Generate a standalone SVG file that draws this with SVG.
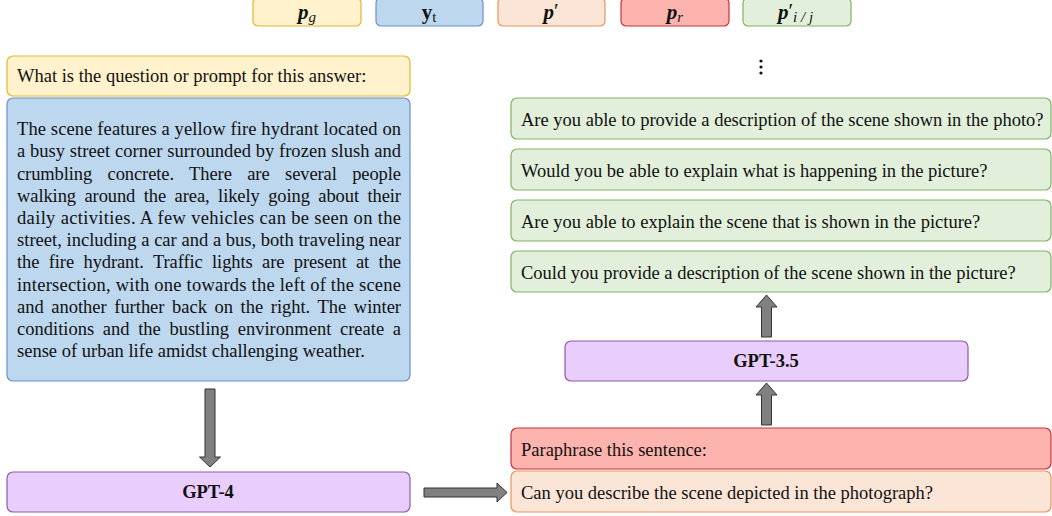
<svg xmlns="http://www.w3.org/2000/svg" width="1052" height="516" viewBox="0 0 1052 516">
<style>
text{font-family:"Liberation Serif","Times New Roman",serif;font-size:18.5px;fill:#111}
.b{font-weight:bold}
.bi{font-weight:bold;font-style:italic}
.i{font-style:italic}
.c{text-anchor:middle}
.lg{font-size:21px}
.yel{fill:#fff2cc;stroke:#e6b52e;stroke-width:1.2}
.blu{fill:#bdd7ee;stroke:#6a8fcf;stroke-width:1.2}
.org{fill:#fbe5d6;stroke:#e8955e;stroke-width:1.2}
.red{fill:#fdb4ae;stroke:#c8323a;stroke-width:1.2}
.grn{fill:#e2efda;stroke:#82b366;stroke-width:1.2}
.pur{fill:#e9cdfc;stroke:#8e5aaa;stroke-width:1.2}
.arr{fill:#808080;stroke:#333;stroke-width:1}
</style>
<g id="legend">
<rect class="yel" x="253" y="-2" width="108" height="28" rx="5"/>
<text class="c lg" x="307" y="19"><tspan class="bi">p</tspan><tspan class="i" font-size="15" dy="3">g</tspan></text>
<rect class="blu" x="376" y="-2" width="107" height="28" rx="5"/>
<text class="c lg" x="429" y="19"><tspan class="b">y</tspan><tspan font-size="15" dy="3">t</tspan></text>
<rect class="org" x="498" y="-2" width="107" height="28" rx="5"/>
<text class="c lg" x="551" y="19"><tspan class="bi">p</tspan><tspan dy="-1">′</tspan></text>
<rect class="red" x="621" y="-2" width="108" height="28" rx="5"/>
<text class="c lg" x="675" y="19"><tspan class="bi">p</tspan><tspan class="i" font-size="15" dy="3">r</tspan></text>
<rect class="grn" x="743" y="-2" width="108" height="28" rx="5"/>
<text class="lg" x="778" y="19"><tspan class="bi">p</tspan><tspan dy="-1">′</tspan><tspan class="i" font-size="15" dy="4">i / j</tspan></text>
</g>
<g id="question">
<rect class="yel" x="7" y="56" width="403" height="40" rx="6"/>
<text x="17" y="82">What is the question or prompt for this answer:</text>
</g>
<g id="answer">
<rect class="blu" x="7" y="98" width="403" height="283" rx="6"/>
<text x="17" y="135" textLength="384" lengthAdjust="spacing">The scene features a yellow fire hydrant located on</text>
<text x="17" y="157" textLength="384" lengthAdjust="spacing">a busy street corner surrounded by frozen slush and</text>
<text x="17" y="180" textLength="384" lengthAdjust="spacing" word-spacing="11">crumbling concrete. There are several people</text>
<text x="17" y="202" textLength="384" lengthAdjust="spacing" word-spacing="4">walking around the area, likely going about their</text>
<text x="17" y="224" textLength="384" lengthAdjust="spacing">daily activities. A few vehicles can be seen on the</text>
<text x="17" y="246" textLength="384" lengthAdjust="spacing">street, including a car and a bus, both traveling near</text>
<text x="17" y="268" textLength="384" lengthAdjust="spacing" word-spacing="5">the fire hydrant. Traffic lights are present at the</text>
<text x="17" y="291" textLength="384" lengthAdjust="spacing">intersection, with one towards the left of the scene</text>
<text x="17" y="313" textLength="384" lengthAdjust="spacing" word-spacing="3">and another further back on the right. The winter</text>
<text x="17" y="335" textLength="384" lengthAdjust="spacing" word-spacing="4">conditions and the bustling environment create a</text>
<text x="17" y="357">sense of urban life amidst challenging weather.</text>
</g>
<g id="gpt4">
<rect class="pur" x="7" y="472" width="403" height="40" rx="6"/>
<text class="b c" x="208" y="498">GPT-4</text>
</g>
<g id="dots">
<circle cx="761" cy="61" r="1.6" fill="#111"/>
<circle cx="761" cy="67" r="1.6" fill="#111"/>
<circle cx="761" cy="73" r="1.6" fill="#111"/>
</g>
<g id="para1">
<rect class="grn" x="511" y="98" width="540" height="41" rx="6"/>
<text x="521" y="126">Are you able to provide a description of the scene shown in the photo?</text>
</g>
<g id="para2">
<rect class="grn" x="511" y="149" width="540" height="41" rx="6"/>
<text x="521" y="177">Would you be able to explain what is happening in the picture?</text>
</g>
<g id="para3">
<rect class="grn" x="511" y="200" width="540" height="41" rx="6"/>
<text x="521" y="228">Are you able to explain the scene that is shown in the picture?</text>
</g>
<g id="para4">
<rect class="grn" x="511" y="251" width="540" height="41" rx="6"/>
<text x="521" y="279">Could you provide a description of the scene shown in the picture?</text>
</g>
<g id="gpt35">
<rect class="pur" x="565" y="341" width="403" height="40" rx="6"/>
<text class="b c" x="766" y="367">GPT-3.5</text>
</g>
<g id="rprompt">
<rect class="red" x="511" y="428" width="540" height="41" rx="6"/>
<text x="521" y="456">Paraphrase this sentence:</text>
</g>
<g id="question-out">
<rect class="org" x="511" y="471" width="540" height="41" rx="6"/>
<text x="521" y="499">Can you describe the scene depicted in the photograph?</text>
</g>
<g id="connectors">
<path class="arr" d="M205,389 H215 V457 H220.5 L210,467 L199.5,457 H205 Z"/>
<path class="arr" d="M424,488 H497 V483 L507,492.5 L497,502 V497 H424 Z"/>
<path class="arr" d="M761.5,337 V307 H756 L766.5,295 L777,307 H771.5 V337 Z"/>
<path class="arr" d="M761.5,425 V395 H756 L766.5,383 L777,395 H771.5 V425 Z"/>
</g>
</svg>
